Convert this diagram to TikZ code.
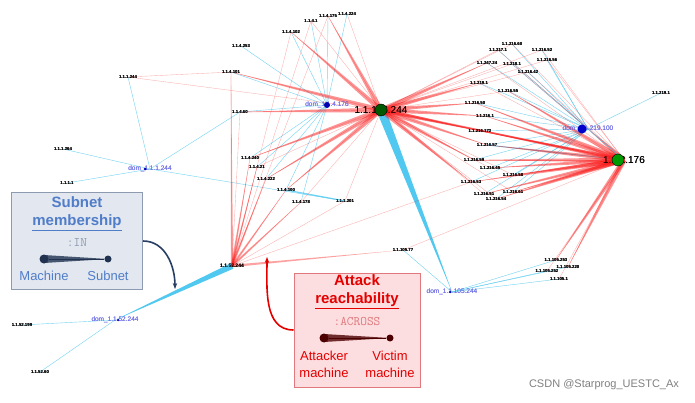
\documentclass[tikz,border=0pt]{standalone}
\usepackage{fontspec}
\setmainfont{Liberation Sans}
\usetikzlibrary{calc,arrows.meta}
\definecolor{eb}{RGB}{80,200,240}
\definecolor{er}{RGB}{250,20,20}
\definecolor{domc}{RGB}{110,110,230}
\definecolor{lgb}{RGB}{226,231,240}
\definecolor{lgbd}{RGB}{140,155,175}
\definecolor{lgt}{RGB}{80,125,200}
\definecolor{lrb}{RGB}{252,222,224}
\definecolor{lrbd}{RGB}{225,120,125}
\newcommand\wdg[4]{\fill[#4] ($(#1)!#3!90:(#2)$) -- (#2.center) -- ($(#1)!#3!-90:(#2)$) -- cycle;}
\tikzset{
 leaf/.style={font=\fontsize{4.3}{5}\selectfont\bfseries, inner sep=0.3pt, text=black},
 dom/.style={font=\fontsize{6.5}{7}\selectfont, inner sep=0.3pt, text=domc},
 hubl/.style={font=\fontsize{10}{10}\selectfont, inner sep=0.3pt},
 dot/.style={circle, fill=blue!70!black, inner sep=0pt, minimum size=#1},
 be/.style={eb, line width=0.4pt, opacity=0.8},
 re/.style={er, line width=0.35pt, opacity=0.35},
 legtitle/.style={font=\bfseries\fontsize{15}{18}\selectfont},
 legtext/.style={font=\fontsize{13}{17}\selectfont},
 legcode/.style={font=\ttfamily\fontsize{13}{13}\selectfont},
}
\begin{document}
\begin{tikzpicture}[x=1pt,y=-1pt]
\useasboundingbox (0,0) rectangle (695,403);
\fill[white] (0,0) rectangle (695,403);
\node[hubl] (h1) at (381,110) {1.1.105.244};
\node[hubl] (h2) at (624,160) {1.1.2.176};
\node[leaf,font=\fontsize{5}{5}\selectfont\bfseries] (h3) at (232,266) {1.1.52.244};
\node[dom] (d4) at (327,105) {dom\_1.1.4.176};
\node[dom] (d216) at (588,129) {dom\_1.1.219.100};
\node[dom] (d1) at (150,169) {dom\_1.1.1.244};
\node[dom] (d52) at (115,320) {dom\_1.1.52.244};
\node[dom] (d105) at (452,292) {dom\_1.1.105.244};
\foreach \n/\x/\y/\t in {
 a1/128/77/1.1.1.244, a2/231/72/1.1.4.101, a3/241/46/1.1.4.253, a4/291/32/1.1.4.102,
 a5/311/21/1.1.4.1, a6/328/16/1.1.4.175, a7/347/14/1.1.4.224, a8/240/112/1.1.4.60,
 a9/63/149/1.1.1.264, a10/67/183/1.1.1.1, a11/250/158/1.1.4.240, a12/257/167/1.1.4.21,
 a13/266/179/1.1.4.222, a14/286/190/1.1.4.100, a15/301/202/1.1.4.178, a16/345/201/1.1.1.201,
 b1/403/250/1.1.105.77, b2/556/260/1.1.105.253, b3/568/267/1.1.105.220, b4/547/271/1.1.105.252,
 b5/559/279/1.1.105.1, c1/22/325/1.1.52.199, c2/40/372/1.1.52.60,
 r1/512/44/1.1.216.60, r2/498/50/1.1.217.1, r3/542/50/1.1.216.52, r4/547/60/1.1.216.56,
 r5/487/63/1.1.247.24, r6/512/64/1.1.218.1, r7/528/72/1.1.216.42, r8/479/83/1.1.219.1,
 r9/508/91/1.1.216.55, r10/475/103/1.1.216.50, r11/485/116/1.1.216.1, r12/480/131/1.1.216.172,
 r13/487/145/1.1.216.57, r14/474/160/1.1.216.59, r15/490/168/1.1.216.45, r16/513/175/1.1.216.58,
 r17/471/182/1.1.216.53, r18/484/194/1.1.216.51, r19/513/192/1.1.216.61, r20/496/199/1.1.216.54,
 r21/661/93/1.1.219.1}
 {\node[leaf] (\n) at (\x,\y) {\t};}
% blue membership edges
\foreach \n in {a2,a3,a4,a5,a6,a7,a8,a11,a12,a13,a14,a15} {\draw[be] (d4.center) -- (\n.center);}
\foreach \n in {a1,a9,a10,a8,a16} {\draw[be] (d1.center) -- (\n.center);}
\foreach \n in {r1,r2,r3,r4,r5,r6,r7,r8,r9,r10,r11,r12,r13,r14,r15,r16,r17,r18,r19,r20,r21} {\draw[be] (d216.center) -- (\n.center);}
\foreach \n in {b1,b2,b3,b4,b5} {\draw[be] (d105.center) -- (\n.center);}
\foreach \n in {c1,c2} {\draw[be] (d52.center) -- (\n.center);}
\draw[be,line width=1.2pt] (a14.center) -- (a16.center);
\draw[be,line width=1pt] (r13.center) -- (h2.center);
\wdg{h1}{d105}{4.5pt}{eb}
\wdg{h3}{d52}{3pt}{eb}
% red attack edges
\foreach \n in {a1,a2,a4,a5,a6,a7,a8,a11,a12,a13,a14,a15,a16} {\draw[re] (h1.center) -- (\n.center);}
\foreach \n in {r1,r2,r3,r4,r5,r6,r7,r8,r9,r10,r11,r12,r13,r14,r15,r16,r17,r18,r19,r20} {\draw[re] (h1.center) -- (\n.center); \draw[re] (h2.center) -- (\n.center);}
\foreach \n in {a2,a4,a5,a6,a11,a12,a13,a14,a15,a16,a8} {\draw[re] (h3.center) -- (\n.center);}
\foreach \n in {b1,b2,b3,b4,b5} {\draw[re] (h2.center) -- (\n.center);}
\draw[re] (h3.center) -- (r17.center);
\draw[re] (a1.center) -- (a2.center);
\foreach \n in {r5,r8,r10,r11,r12,r13,r14,r17,a4,a6,a13,a14,a2,a8,a11} {\wdg{h1}{\n}{2.5pt}{er,opacity=0.45}}
\foreach \n in {r12,r13,r14,r15,r16,r17,r18,r19,r20,b2,b3,r10,r11,d216,r9} {\wdg{h2}{\n}{2.5pt}{er,opacity=0.45}}
\foreach \n in {a11,a12,a13,a14,b1,a2,a15} {\wdg{h3}{\n}{1.2pt}{er,opacity=0.4}}
\wdg{h2}{h1}{1.5pt}{er,opacity=0.5}
\wdg{h1}{h2}{1.5pt}{er,opacity=0.5}
\draw[eb,line width=0.8pt,opacity=0.7] (d216.center) -- (h2.center);
% labels on top
\foreach \n/\x/\y/\t in {
 a1/128/77/1.1.1.244, a2/231/72/1.1.4.101, a3/241/46/1.1.4.253, a4/291/32/1.1.4.102,
 a5/311/21/1.1.4.1, a6/328/16/1.1.4.175, a7/347/14/1.1.4.224, a8/240/112/1.1.4.60,
 a9/63/149/1.1.1.264, a10/67/183/1.1.1.1, a11/250/158/1.1.4.240, a12/257/167/1.1.4.21,
 a13/266/179/1.1.4.222, a14/286/190/1.1.4.100, a15/301/202/1.1.4.178, a16/345/201/1.1.1.201,
 b1/403/250/1.1.105.77, b2/556/260/1.1.105.253, b3/568/267/1.1.105.220, b4/547/271/1.1.105.252,
 b5/559/279/1.1.105.1, c1/22/325/1.1.52.199, c2/40/372/1.1.52.60,
 r1/512/44/1.1.216.60, r2/498/50/1.1.217.1, r3/542/50/1.1.216.52, r4/547/60/1.1.216.56,
 r5/487/63/1.1.247.24, r6/512/64/1.1.218.1, r7/528/72/1.1.216.42, r8/479/83/1.1.219.1,
 r9/508/91/1.1.216.55, r10/475/103/1.1.216.50, r11/485/116/1.1.216.1, r12/480/131/1.1.216.172,
 r13/487/145/1.1.216.57, r14/474/160/1.1.216.59, r15/490/168/1.1.216.45, r16/513/175/1.1.216.58,
 r17/471/182/1.1.216.53, r18/484/194/1.1.216.51, r19/513/192/1.1.216.61, r20/496/199/1.1.216.54,
 r21/661/93/1.1.219.1}
 {\node[leaf] at (\x,\y) {\t};}
\node[hubl] at (381,110) {1.1.105.244};
\node[hubl] at (624,160) {1.1.2.176};
\node[leaf,font=\fontsize{5}{5}\selectfont\bfseries] at (232,266) {1.1.52.244};
\node[dom] at (327,105) {dom\_1.1.4.176};
\node[dom] at (588,129) {dom\_1.1.219.100};
\node[dom] at (150,169) {dom\_1.1.1.244};
\node[dom] at (115,320) {dom\_1.1.52.244};
\node[dom] at (452,292) {dom\_1.1.105.244};
\node[circle,fill=green!35!black,draw=black,minimum size=12pt,inner sep=0] (g1) at (381,110) {};
\node[circle,fill=green!60!black,draw=black,minimum size=12pt,inner sep=0] (g2) at (618,160) {};
\node[dot=9pt,fill=blue!80!black] (g3) at (582,129) {};
\node[dot=6pt] (g4) at (327,105) {};
\node[dot=3pt] (g5) at (145,169) {};
\node[dot=2.5pt] (g6) at (118,320) {};
\node[dot=2.5pt] (g7) at (450,292) {};
% legend 1
\node[draw=lgbd,fill=lgb,line width=1pt,minimum width=131pt,minimum height=96pt,inner sep=0] (L1) at (77,241) {};
\node[legtitle,text=lgt,align=center] (L1t) at (77,214) {Subnet\\\underline{membership}};
\node[legcode,text=lgbd] (L1c) at (77,243) {:IN};
\node[circle,fill=lgt!40!black,inner sep=0,minimum size=9pt] (L1a) at (44,259) {};
\node[circle,fill=lgt!40!black,inner sep=0,minimum size=7pt] (L1b) at (108,259) {};
\fill[lgt!40!black,opacity=0.8] ($(L1a)!4pt!90:(L1b)$) -- (L1b.center) -- ($(L1a)!4pt!-90:(L1b)$) -- cycle;
\draw[lgt!40!black,line width=0.6pt] (L1a) -- (L1b);
\node[text=lgt,legtext] (L1m) at (44,276) {Machine};
\node[text=lgt,legtext] (L1s) at (108,276) {Subnet};
\coordinate (A1e) at (175,289);
\draw[-{Stealth[length=6pt]},line width=1.6pt,color=lgt!50!black] (L1.east|-0,241) to[out=0,in=90] (A1e);
% legend 2
\node[draw=lrbd,fill=lrb,line width=1pt,minimum width=126pt,minimum height=114pt,inner sep=0] (L2) at (357,330) {};
\node[legtitle,text=red!90!black,align=center] (L2t) at (357,292) {Attack\\\underline{reachability}};
\node[legcode,text=lrbd] (L2c) at (357,322) {:ACROSS};
\node[circle,fill=red!30!black,inner sep=0,minimum size=9pt] (L2a) at (324,338) {};
\node[circle,fill=red!30!black,inner sep=0,minimum size=7pt] (L2b) at (390,338) {};
\fill[red!30!black,opacity=0.8] ($(L2a)!4pt!90:(L2b)$) -- (L2b.center) -- ($(L2a)!4pt!-90:(L2b)$) -- cycle;
\draw[red!30!black,line width=0.6pt] (L2a) -- (L2b);
\node[text=red!90!black,legtext,align=center] (L2m) at (324,364) {Attacker\\machine};
\node[text=red!90!black,legtext,align=center] (L2s) at (390,364) {Victim\\machine};
\coordinate (A2e) at (267,257);
\draw[-{Stealth[length=6pt]},line width=1.6pt,color=red!90!black] (L2.west|-0,330) to[out=180,in=270] (A2e);
\node[text=gray,font=\fontsize{11}{12}\selectfont] (wm) at (604,385) {CSDN @Starprog\_UESTC\_Ax};
\end{tikzpicture}
\end{document}
